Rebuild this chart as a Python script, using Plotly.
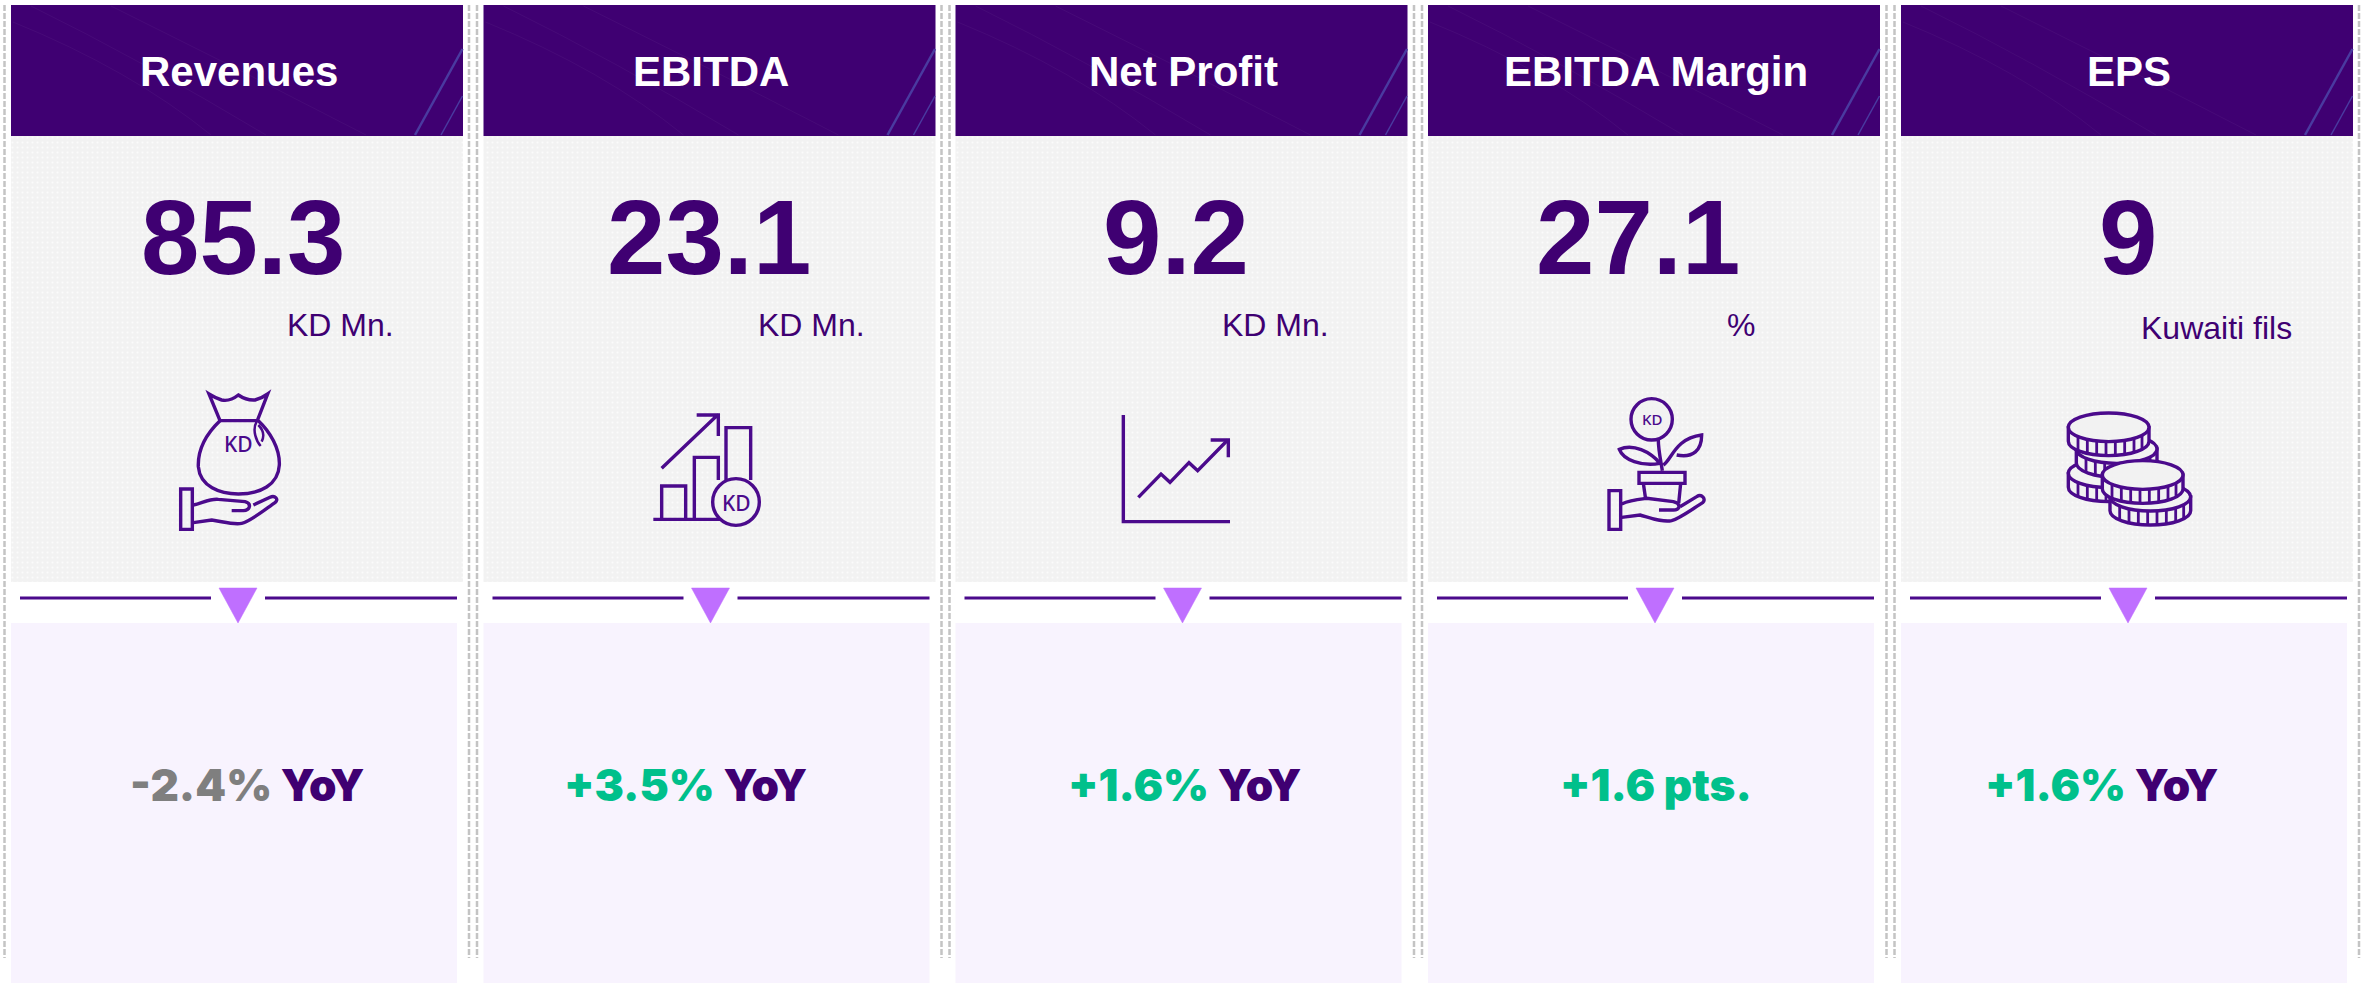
import numpy as np
import plotly.graph_objects as go

# ---------- data ----------
metrics = ["Revenues", "EBITDA", "Net Profit", "EBITDA Margin", "EPS"]
values = ["85.3", "23.1", "9.2", "27.1", "9"]
units = ["KD Mn.", "KD Mn.", "KD Mn.", "%", "Kuwaiti fils"]
changes = ["-2.4%", "+3.5%", "+1.6%", "+1.6 pts.", "+1.6%"]
change_suffix = [" YoY", " YoY", " YoY", "", " YoY"]
change_colors = ["#7f7f7f", "#00c08b", "#00c08b", "#00c08b", "#00c08b"]

# ---------- layout constants (page pixels) ----------
W, H = 2362, 983
panel_left = [11, 483.5, 955.5, 1428, 1901]
value_cx = [243, 709, 1176, 1638, 2128]
unit_cx = [340, 811, 1275, 1741, 2216]
unit_cy = [325, 325, 325, 325, 328]
change_cx = [247, 685, 1184, 1656, 2101]
PW, LW = 452, 446
PURPLE, INK, LAV, TRI, GREY = "#3f0072", "#4b0a8c", "#f8f3fe", "#bf6fff", "#f2f2f2"

fig = go.Figure()
hcx = [l + PW / 2 for l in panel_left]
lcx = [l + LW / 2 for l in panel_left]
fig.add_bar(x=hcx, y=[131] * 5, base=[5] * 5, width=PW, marker=dict(color=PURPLE, line_width=0))
fig.add_bar(x=hcx, y=[446] * 5, base=[136] * 5, width=PW,
            marker=dict(color=GREY, line_width=0,
                        pattern=dict(shape=".", bgcolor=GREY, fgcolor="#ffffff",
                                     fgopacity=0.7, size=5, solidity=0.12)))
fig.add_bar(x=lcx, y=[360] * 5, base=[623] * 5, width=LW, marker=dict(color=LAV, line_width=0))

shapes, ann = [], []
def txt(x, y, s, size, color, family="Liberation Sans", weight="normal"):
    ann.append(dict(x=x, y=y, xref="x", yref="y", text=s, showarrow=False, xanchor="center",
                    yanchor="middle", font=dict(size=size, color=color, family=family, weight=weight)))

def path(d, color=INK, width=3.4, fill="rgba(0,0,0,0)"):
    shapes.append(dict(type="path", path=d, xref="x", yref="y", layer="above",
                       line=dict(color=color, width=width), fillcolor=fill))

def icon_path(ox, oy, d, **kw):
    """d is written in 3x icon units; each coordinate pair is mapped to the page."""
    out, is_x = [], True
    for tok in d.split():
        if tok.isalpha():
            out.append(tok); is_x = True
        else:
            v = float(tok) / 3 + (ox if is_x else oy)
            out.append(f"{v:.2f}"); is_x = not is_x
    path(" ".join(out), **kw)

def circle(ox, oy, cx, cy, r, fill=GREY, width=3.4, ry=None):
    ry = ry or r
    shapes.append(dict(type="circle", xref="x", yref="y", layer="above",
                       x0=ox + (cx - r) / 3, x1=ox + (cx + r) / 3, y0=oy + (cy - ry) / 3, y1=oy + (cy + ry) / 3,
                       line=dict(color=INK, width=width), fillcolor=fill))

# separators
for x in [4.5, 469, 477, 941.5, 949.5, 1414, 1422, 1886.5, 1894.5, 2359]:
    shapes.append(dict(type="line", xref="x", yref="y", x0=x, x1=x, y0=5, y1=958, layer="below",
                       line=dict(color="#c4c4c4", width=2.5, dash="6px,2px")))

for i, l in enumerate(panel_left):
    # header decoration
    for d in ["M {a} 22 Q {b} 70 {c} 135", "M {d} 6 Q {e} 60 {f} 135", "M {g} 6 Q {h} 70 {j} 135"]:
        dd = d.format(a=l + 2, b=l + 120, c=l + 200, d=l + 20, e=l + 130, f=l + 255, g=l + 100, h=l + 230, j=l + 355)
        path(dd, color="rgba(255,255,255,0.04)", width=1)
    path(f"M {l + 404} 135 L {l + 451.5} 49", color="#4a3aa0", width=2.5)
    path(f"M {l + 430} 135 L {l + 451.5} 96", color="#4a3aa0", width=1.5)
    # divider
    for a, b in [(9, 200), (254, 446)]:
        shapes.append(dict(type="line", xref="x", yref="y", x0=l + a, x1=l + b, y0=598, y1=598, layer="above",
                           line=dict(color=INK, width=3)))
    path(f"M {l + 208} 588 L {l + 246} 588 L {l + 227} 623 Z", color=TRI, width=0.5, fill=TRI)
    # text
    txt(hcx[i] + 1.5, 71, metrics[i], 42, "#ffffff", weight="bold")
    txt(value_cx[i], 237, values[i], 105, PURPLE, weight="bold")
    txt(unit_cx[i], unit_cy[i], units[i], 32, PURPLE)
    txt(change_cx[i], 785,
        f'<span style="color:{change_colors[i]}">{changes[i]}</span>{change_suffix[i]}',
        44, PURPLE, family="Inter", weight=900)

# --- icon 1: money bag
o = (130, 370)
icon_path(*o, "M 237 72 Q 258 85 275 90 Q 300 95 325 75 Q 350 92 375 90 Q 395 85 413 72 L 382 152 L 270 152 Z")
icon_path(*o, "M 270 152 C 225 195 203 240 205 290 C 210 350 270 372 325 372 C 390 372 445 345 448 285 C 450 235 420 185 385 152")
icon_path(*o, "M 380 155 C 365 180 380 215 392 228 M 385 165 C 400 180 405 195 395 215", width=2.5)
icon_path(*o, "M 152 357 L 187 357 L 187 478 L 152 478 Z")
icon_path(*o, "M 190 405 C 215 400 240 385 265 388 L 345 395 C 365 400 362 420 340 422 L 305 422")
icon_path(*o, "M 190 458 L 245 450 C 280 455 310 465 335 460 C 360 455 410 415 435 398 C 448 388 435 375 420 382 L 370 405")
txt(o[0] + 326 / 3, o[1] + 222 / 3, "KD", 21, INK, family="Noto Sans", weight=500)

# --- icon 2: growing bars
o = (630, 380)
icon_path(*o, "M 95 265 L 265 103 M 200 105 L 265 105 L 265 168")
icon_path(*o, "M 95 415 L 95 318 L 167 318 L 167 415")
icon_path(*o, "M 193 415 L 193 232 L 265 232 L 265 300")
icon_path(*o, "M 288 300 L 288 143 L 362 143 L 362 300")
icon_path(*o, "M 70 418 L 270 418")
circle(*o, 318, 366, 70)
txt(o[0] + 318 / 3, o[1] + 368 / 3, "KD", 21, INK, family="Noto Sans", weight=500)

# --- icon 3: trend chart
o = (1090, 390)
icon_path(*o, "M 100 75 L 100 395 L 420 395")
icon_path(*o, "M 145 322 L 213 252 L 240 277 L 297 218 L 323 242 L 413 150")
icon_path(*o, "M 362 150 L 415 150 L 415 202")

# --- icon 4: plant in hand
o = (1580, 380)
circle(*o, 215, 118, 62)
txt(o[0] + 215 / 3, o[1] + 118 / 3, "KD", 15, INK, family="Noto Sans", weight=500)
icon_path(*o, "M 235 180 C 235 210 242 240 247 272")
icon_path(*o, "M 240 250 C 210 215 160 190 118 208 C 130 240 185 260 240 250 Z")
icon_path(*o, "M 250 255 C 275 240 285 175 365 165 C 365 210 340 235 290 225")
icon_path(*o, "M 177 277 L 315 277 L 315 310 L 177 310 Z")
icon_path(*o, "M 190 310 L 197 358 M 302 310 L 296 370")
icon_path(*o, "M 87 332 L 122 332 L 122 448 L 87 448 Z")
icon_path(*o, "M 125 372 C 150 360 175 358 200 355 L 280 365 C 305 372 300 390 280 390 L 237 390")
icon_path(*o, "M 125 412 L 180 405 C 215 415 250 428 275 422 C 300 415 340 385 368 368 C 380 358 365 340 350 350 L 300 380")

# --- icon 5: coins
o = (2040, 390)
def coin(cx, cy, rx=121, ry=43, h=42):
    k = 0.5523
    body = (f"M {cx-rx} {cy} L {cx-rx} {cy+h} C {cx-rx} {cy+h+k*ry:.1f} {cx-k*rx:.1f} {cy+h+ry} {cx} {cy+h+ry} "
            f"C {cx+k*rx:.1f} {cy+h+ry} {cx+rx} {cy+h+k*ry:.1f} {cx+rx} {cy+h} L {cx+rx} {cy} Z")
    icon_path(*o, body, fill=GREY)
    for dx in (-92, -64, -36, -8, 20, 48, 76, 100):
        t = np.sqrt(1 - (dx / rx) ** 2) * ry
        icon_path(*o, f"M {cx+dx} {cy+t:.1f} L {cx+dx} {cy+h+t:.1f}", width=2.8)
    circle(*o, cx, cy, rx, ry=ry)
coin(206, 250)
coin(230, 177)
coin(206, 112)
coin(331, 320)
coin(308, 255)

fig.update_layout(
    width=W, height=H, margin=dict(l=0, r=0, t=0, b=0), paper_bgcolor="#ffffff", plot_bgcolor="#ffffff",
    showlegend=False, barmode="overlay", shapes=shapes, annotations=ann,
    xaxis=dict(range=[0, W], visible=False, fixedrange=True),
    yaxis=dict(range=[H, 0], visible=False, fixedrange=True),
)
fig.write_html("out.html", config={"displayModeBar": False},
               post_script="document.body.style.margin='0';document.body.style.overflow='hidden';")
